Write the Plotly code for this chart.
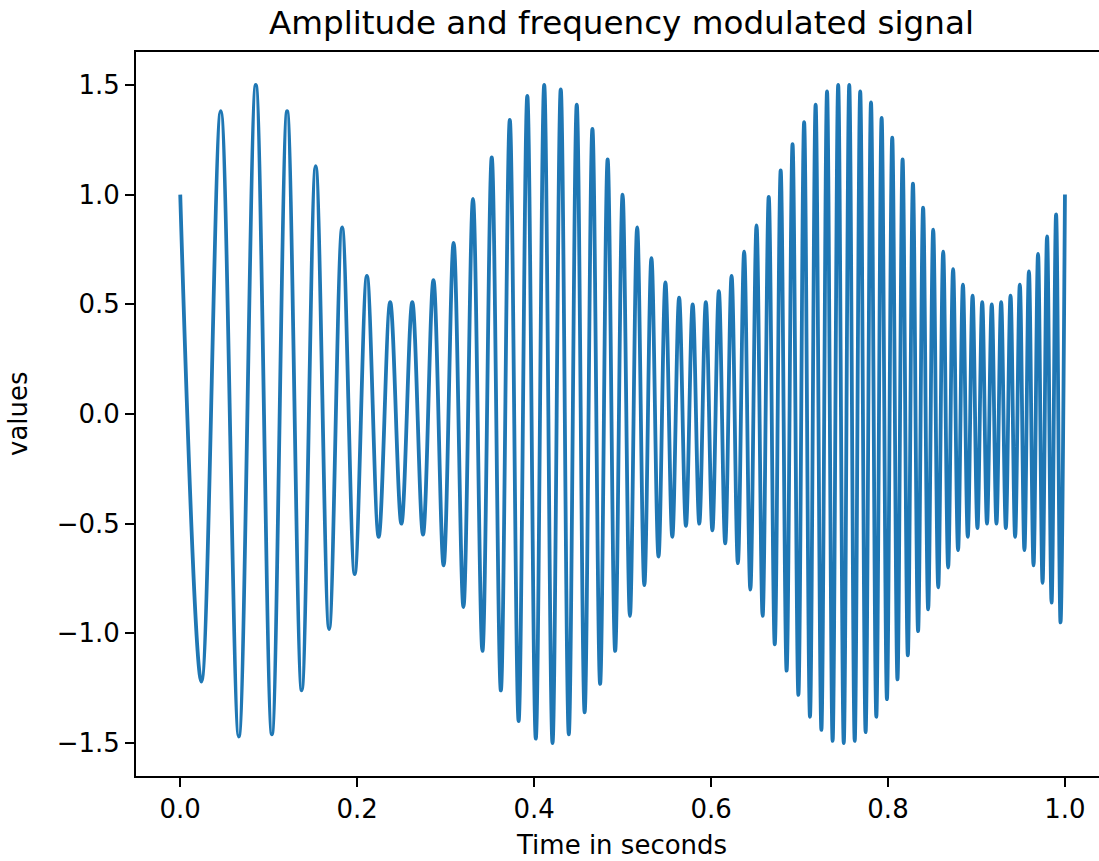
import plotly.graph_objects as go

# Turning points (successive peaks and troughs) of the plotted signal
extremum_times = [
    0.0000, 0.0239, 0.0458, 0.0662, 0.0854, 0.1036, 0.1208, 0.1373, 0.1531, 0.1683,
    0.1830, 0.1972, 0.2110, 0.2243, 0.2373, 0.2500, 0.2623, 0.2744, 0.2862, 0.2977,
    0.3090, 0.3201, 0.3309, 0.3416, 0.3521, 0.3624, 0.3725, 0.3825, 0.3923, 0.4019,
    0.4114, 0.4208, 0.4301, 0.4392, 0.4482, 0.4571, 0.4659, 0.4746, 0.4831, 0.4916,
    0.5000, 0.5083, 0.5165, 0.5246, 0.5326, 0.5406, 0.5484, 0.5562, 0.5639, 0.5716,
    0.5792, 0.5867, 0.5941, 0.6015, 0.6088, 0.6160, 0.6232, 0.6303, 0.6374, 0.6444,
    0.6514, 0.6583, 0.6652, 0.6720, 0.6787, 0.6854, 0.6921, 0.6987, 0.7052, 0.7118,
    0.7182, 0.7247, 0.7311, 0.7374, 0.7437, 0.7500, 0.7562, 0.7624, 0.7686, 0.7747,
    0.7808, 0.7868, 0.7928, 0.7988, 0.8048, 0.8107, 0.8165, 0.8224, 0.8282, 0.8340,
    0.8397, 0.8454, 0.8511, 0.8568, 0.8624, 0.8680, 0.8736, 0.8792, 0.8847, 0.8902,
    0.8956, 0.9011, 0.9065, 0.9119, 0.9173, 0.9226, 0.9279, 0.9332, 0.9385, 0.9437,
    0.9490, 0.9542, 0.9593, 0.9645, 0.9696, 0.9747, 0.9798, 0.9849, 0.9900, 0.9950,
    1.0000,
]
extremum_values = [
    1.00, -1.22, 1.38, -1.47, 1.50, -1.46, 1.38, -1.26, 1.13, -0.98,
    0.85, -0.73, 0.63, -0.56, 0.51, -0.50, 0.51, -0.55, 0.61, -0.69,
    0.78, -0.88, 0.98, -1.08, 1.17, -1.26, 1.34, -1.40, 1.45, -1.48,
    1.50, -1.50, 1.48, -1.46, 1.41, -1.36, 1.30, -1.23, 1.16, -1.08,
    1.00, -0.92, 0.85, -0.78, 0.71, -0.65, 0.60, -0.56, 0.53, -0.51,
    0.50, -0.50, 0.51, -0.53, 0.56, -0.59, 0.63, -0.68, 0.74, -0.80,
    0.86, -0.92, 0.99, -1.05, 1.11, -1.17, 1.23, -1.28, 1.33, -1.38,
    1.41, -1.44, 1.47, -1.49, 1.50, -1.50, 1.50, -1.49, 1.47, -1.45,
    1.42, -1.38, 1.35, -1.30, 1.26, -1.21, 1.16, -1.10, 1.05, -0.99,
    0.94, -0.89, 0.84, -0.79, 0.74, -0.70, 0.66, -0.62, 0.59, -0.56,
    0.54, -0.52, 0.51, -0.50, 0.50, -0.50, 0.51, -0.52, 0.54, -0.56,
    0.59, -0.62, 0.65, -0.69, 0.73, -0.77, 0.81, -0.86, 0.91, -0.95,
    1.00,
]

x_tick_vals = [0.0, 0.2, 0.4, 0.6, 0.8, 1.0]
x_tick_text = ["0.0", "0.2", "0.4", "0.6", "0.8", "1.0"]
y_tick_vals = [-1.5, -1.0, -0.5, 0.0, 0.5, 1.0, 1.5]
y_tick_text = ["\u22121.5", "\u22121.0", "\u22120.5", "0.0", "0.5", "1.0", "1.5"]

title_text = "Amplitude and frequency modulated signal"
x_label = "Time in seconds"
y_label = "values"

FONT = "DejaVu Sans"

fig = go.Figure()
fig.add_trace(go.Scatter(
    x=extremum_times, y=extremum_values, mode="lines",
    line=dict(color="#1f77b4", width=3.8, shape="spline", smoothing=1.0),
    showlegend=False, hoverinfo="skip",
))

fig.update_layout(
    width=1099, height=861,
    margin=dict(l=136, r=0, t=52, b=85, pad=0),
    paper_bgcolor="white", plot_bgcolor="white",
    font=dict(family=FONT, size=26, color="black"),
    title=dict(text=title_text, x=621.5 / 1099, xref="container", xanchor="center",
               y=1 - 23 / 861, yref="container", yanchor="middle",
               font=dict(family=FONT, size=32.6, color="black")),
    xaxis=dict(range=[-0.05, 1.0385], tickvals=x_tick_vals, ticktext=x_tick_text,
               showgrid=False, zeroline=False, showline=True, linecolor="black",
               linewidth=2, mirror=True, ticks="outside", ticklen=9, tickwidth=2,
               tickcolor="black", tickfont=dict(family=FONT, size=26, color="black")),
    yaxis=dict(range=[-1.65, 1.65], tickvals=y_tick_vals, ticktext=y_tick_text,
               showgrid=False, zeroline=False, showline=True, linecolor="black",
               linewidth=2, mirror=False, ticks="outside", ticklen=9, tickwidth=2,
               tickcolor="black", tickfont=dict(family=FONT, size=26, color="black")),
    annotations=[
        dict(text=x_label, xref="paper", yref="paper", x=(621.5 - 136) / 963,
             y=-(845 - 776) / 724, xanchor="center", yanchor="middle", showarrow=False,
             font=dict(family=FONT, size=26, color="black")),
        dict(text=y_label, xref="paper", yref="paper", x=(18 - 136) / 963,
             y=0.5, xanchor="center", yanchor="middle", showarrow=False, textangle=-90,
             font=dict(family=FONT, size=26, color="black")),
    ],
)

fig.write_html(
    "out.html",
    config={"displayModeBar": False},
    post_script="document.body.style.margin='0';document.body.style.overflow='hidden';",
)
